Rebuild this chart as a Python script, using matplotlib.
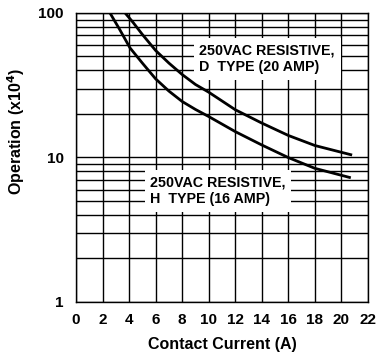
import numpy as np
import matplotlib.pyplot as plt

plt.rcParams['font.family'] = ['Liberation Sans', 'DejaVu Sans']
plt.rcParams['font.weight'] = 'bold'

# D type (20 AMP) curve
d_current = [3.7, 4.3, 5.0, 6.0, 7.0, 8.0, 9.0, 10.0, 12.0, 14.0, 16.0, 18.0, 20.8]
d_ops = [100, 86, 71, 55, 45, 37.5, 32, 28.3, 21.4, 17.3, 14.2, 12.1, 10.4]

# H type (16 AMP) curve
h_current = [2.56, 3.3, 4.07, 5.0, 6.0, 7.0, 8.0, 9.0, 10.0, 12.0, 14.0, 16.0, 18.0, 20.7]
h_ops = [100, 76.6, 57.3, 45, 35, 28.8, 24.4, 21.5, 19.2, 15.1, 12.2, 9.98, 8.41, 7.24]

x_ticks = [0, 2, 4, 6, 8, 10, 12, 14, 16, 18, 20, 22]
y_ticks = [1, 10, 100]
y_ticklabels = ['1', '10', '100']

fig = plt.figure(figsize=(3.81, 3.56), dpi=100)
ax = fig.add_axes([0.1995, 0.1517, 0.7665, 0.8118])

ax.plot(d_current, d_ops, c='k', lw=2.0, zorder=4, solid_capstyle='butt')
ax.plot(h_current, h_ops, c='k', lw=2.0, zorder=4, solid_capstyle='butt')

ax.set_yscale('log')
ax.set_xlim(0, 22)
ax.set_ylim(1, 100)
ax.set_xticks(x_ticks)
ax.set_yticks(y_ticks)
ax.set_yticklabels(y_ticklabels)
ax.tick_params(which='both', length=0, labelsize=11)
ax.tick_params(axis='x', pad=8)
ax.tick_params(axis='y', pad=9)
for lab in ax.get_xticklabels() + ax.get_yticklabels():
    lab.set_fontweight('bold')

ax.grid(which='major', color='k', lw=1.0, zorder=1)
ax.grid(which='minor', axis='y', color='k', lw=1.0, zorder=1)
for s in ax.spines.values():
    s.set_linewidth(1.0)

ax.set_xlabel('Contact Current (A)', fontsize=11.5, fontweight='bold', labelpad=7)
ax.set_ylabel('Operation (x10$^{\\mathbf{4}}$)', fontsize=11.5, fontweight='bold')
ax.yaxis.set_label_coords(-0.168, 0.59)

box = dict(facecolor='white', edgecolor='none', pad=4)
ax.text(9.3, 48.0, '250VAC RESISTIVE,\nD  TYPE (20 AMP)', fontsize=10.3, fontweight='bold',
        ha='left', va='center', linespacing=1.25, bbox=box, zorder=3)
ax.text(5.6, 5.86, '250VAC RESISTIVE,\nH  TYPE (16 AMP)', fontsize=10.3, fontweight='bold',
        ha='left', va='center', linespacing=1.25, bbox=box, zorder=3)

fig.savefig('out.png', dpi=100)
